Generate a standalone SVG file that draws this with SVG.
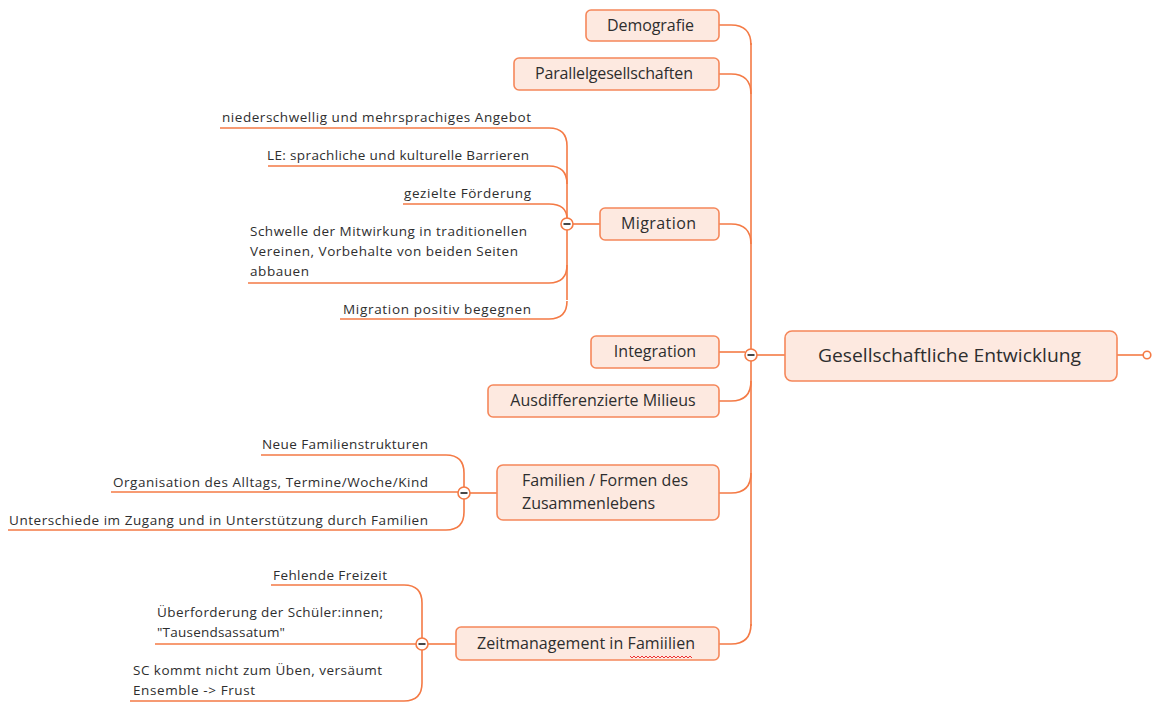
<svg xmlns="http://www.w3.org/2000/svg" width="1154" height="718" viewBox="0 0 1154 718">
<style>
.box{fill:#fde9e0;stroke:#f5875a;stroke-width:1.6}
.ln{fill:none;stroke:#f47a45;stroke-width:1.6}
.t{font-family:"Open Sans","Noto Sans","DejaVu Sans",sans-serif;font-size:16px;fill:#2e2e2e}
.s{font-family:"Open Sans","Noto Sans","DejaVu Sans",sans-serif;font-size:13.5px;fill:#2e2e2e}
.c{fill:#fff;stroke:#f47a45;stroke-width:1.6}
</style>
<rect width="1154" height="718" fill="#fff"/>
<g id="connectors">
<path class="ln" d="M751,43 V626"/>
<path class="ln" d="M719,25 H731 Q751,25 751,45"/>
<path class="ln" d="M719,74 H731 Q751,74 751,94"/>
<path class="ln" d="M719,224 H731 Q751,224 751,244"/>
<path class="ln" d="M719,352 H745"/>
<path class="ln" d="M719,401 H731 Q751,401 751,381"/>
<path class="ln" d="M719,493 H731 Q751,493 751,473"/>
<path class="ln" d="M719,644 H731 Q751,644 751,624"/>
<path class="ln" d="M757,355 H785"/>
<path class="ln" d="M1117,355 H1143"/>
<path class="ln" d="M600,224 H573"/>
<path class="ln" d="M567,146 V300"/>
<path class="ln" d="M220,128 H549 Q567,128 567,146"/>
<path class="ln" d="M268,166 H549 Q567,166 567,184"/>
<path class="ln" d="M403,204 H549 Q567,204 567,219"/>
<path class="ln" d="M248,283 H549 Q567,283 567,265"/>
<path class="ln" d="M340,319 H549 Q567,319 567,301"/>
<path class="ln" d="M497,493 H470"/>
<path class="ln" d="M261,455 H446 Q464,455 464,473 V512 Q464,530 446,530 H8"/>
<path class="ln" d="M111,492 H458"/>
<path class="ln" d="M456,644 H428"/>
<path class="ln" d="M271,585 H404 Q422,585 422,603 V683 Q422,701 404,701 H130"/>
<path class="ln" d="M155,644 H416"/>
</g>
<g id="n-central">
<rect class="box" x="785" y="331" width="332" height="50" rx="7"/>
<text class="t" x="818" y="362" textLength="263" lengthAdjust="spacingAndGlyphs" style="font-size:19px">Gesellschaftliche Entwicklung</text>
<circle class="c" cx="1147" cy="355" r="3.8"/>
</g>
<g id="toggle-main">
<circle class="c" cx="751" cy="355" r="6"/>
<path d="M747.5,355 H754.5" stroke="#333" stroke-width="1.8"/>
</g>
<g id="n-demografie">
<rect class="box" x="586" y="10" width="133" height="31" rx="5"/>
<text class="t" x="607" y="31" textLength="87">Demografie</text>
</g>
<g id="n-parallel">
<rect class="box" x="514" y="58" width="205" height="32" rx="5"/>
<text class="t" x="535" y="79" textLength="158">Parallelgesellschaften</text>
</g>
<g id="n-migration">
<rect class="box" x="600" y="208" width="119" height="32" rx="5"/>
<text class="t" x="621" y="229" textLength="75">Migration</text>
<circle class="c" cx="567" cy="224" r="6"/>
<path d="M563.5,224 H570.5" stroke="#333" stroke-width="1.8"/>
</g>
<g id="m1"><text class="s" x="222" y="122" textLength="309">niederschwellig und mehrsprachiges Angebot</text></g>
<g id="m2"><text class="s" x="267" y="160" textLength="262">LE: sprachliche und kulturelle Barrieren</text></g>
<g id="m3"><text class="s" x="404" y="198" textLength="127">gezielte Förderung</text></g>
<g id="m4"><text class="s" x="250" y="236" textLength="277">Schwelle der Mitwirkung in traditionellen</text><text class="s" x="250" y="256" textLength="268">Vereinen, Vorbehalte von beiden Seiten</text><text class="s" x="250" y="276" textLength="59">abbauen</text></g>
<g id="m5"><text class="s" x="343" y="314" textLength="188">Migration positiv begegnen</text></g>
<g id="n-integration">
<rect class="box" x="591" y="336" width="128" height="32" rx="5"/>
<text class="t" x="655" y="357" text-anchor="middle">Integration</text>
</g>
<g id="n-milieus">
<rect class="box" x="488" y="385" width="231" height="32" rx="5"/>
<text class="t" x="603" y="406" text-anchor="middle">Ausdifferenzierte Milieus</text>
</g>
<g id="n-familien">
<rect class="box" x="497" y="465" width="222" height="55" rx="6"/>
<text class="t" x="522" y="486" textLength="166">Familien / Formen des</text>
<text class="t" x="522" y="509">Zusammenlebens</text>
<circle class="c" cx="464" cy="493" r="6"/>
<path d="M460.5,493 H467.5" stroke="#333" stroke-width="1.8"/>
</g>
<g id="f1"><text class="s" x="262" y="449" textLength="166">Neue Familienstrukturen</text></g>
<g id="f2"><text class="s" x="113" y="487" textLength="315">Organisation des Alltags, Termine/Woche/Kind</text></g>
<g id="f3"><text class="s" x="9" y="525" textLength="419">Unterschiede im Zugang und in Unterstützung durch Familien</text></g>
<g id="n-zeit">
<rect class="box" x="456" y="627" width="263" height="33" rx="5"/>
<text class="t" x="477" y="649" textLength="218">Zeitmanagement in Famiilien</text>
<path d="M630,656 l2,2 l2,-2 l2,2 l2,-2 l2,2 l2,-2 l2,2 l2,-2 l2,2 l2,-2 l2,2 l2,-2 l2,2 l2,-2 l2,2 l2,-2 l2,2 l2,-2 l2,2 l2,-2 l2,2 l2,-2 l2,2 l2,-2 l2,2 l2,-2 l2,2 l2,-2 l2,2 l2,-2 l2,2" fill="none" stroke="#e33" stroke-width="1"/>
<circle class="c" cx="422" cy="644" r="6"/>
<path d="M418.5,644 H425.5" stroke="#333" stroke-width="1.8"/>
</g>
<g id="z1"><text class="s" x="273" y="580" textLength="114">Fehlende Freizeit</text></g>
<g id="z2"><text class="s" x="157" y="617" textLength="226">Überforderung der Schüler:innen;</text><text class="s" x="157" y="637" textLength="128">"Tausendsassatum"</text></g>
<g id="z3"><text class="s" x="133" y="675" textLength="249">SC kommt nicht zum Üben, versäumt</text><text class="s" x="133" y="695" textLength="122">Ensemble -&gt; Frust</text></g>
</svg>
